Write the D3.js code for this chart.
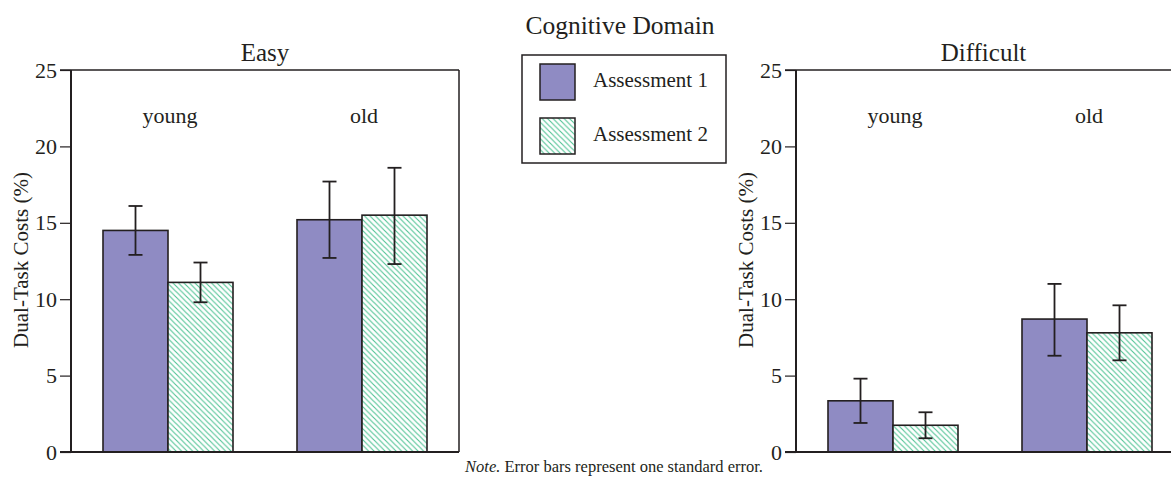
<!DOCTYPE html>
<html>
<head>
<meta charset="utf-8">
<script src="https://cdn.jsdelivr.net/npm/d3@7"></script>
<style>
  body { margin: 0; background: #fff; }
  text { font-family: "Liberation Serif", "Times New Roman", serif; fill: #231f20; }
</style>
</head>
<body>
<div id="chart"></div>
<script>
// data
var groups = ["young", "old"];
var series = ["Assessment 1", "Assessment 2"];
var yTicks = [0, 5, 10, 15, 20, 25];

var easyMean = [[14.5, 11.1], [15.2, 15.5]];
var easyLow  = [[12.9, 9.8], [12.7, 12.3]];
var easyHigh = [[16.1, 12.4], [17.7, 18.6]];

var diffMean = [[3.35, 1.75], [8.7, 7.8]];
var diffLow  = [[1.9, 0.9], [6.3, 6.0]];
var diffHigh = [[4.8, 2.6], [11.0, 9.6]];

var width = 1171, height = 477;
var ink = "#231f20";
var purple = "#8f8bc3";

var svg = d3.select("#chart")
  .append("svg")
  .attr("width", width)
  .attr("height", height);

var defs = svg.append("defs");
var pat = defs.append("pattern")
  .attr("id", "hatch")
  .attr("patternUnits", "userSpaceOnUse")
  .attr("width", 5.5)
  .attr("height", 5.5);
pat.append("rect").attr("width", 5.5).attr("height", 5.5).attr("fill", "#fff");
pat.append("path")
  .attr("d", "M-1,-1 L6.5,6.5 M-3.75,1.75 L1.75,7.25 M1.75,-3.75 L7.25,1.75")
  .attr("stroke", "#4fc394")
  .attr("stroke-width", 1.1);

var fills = [purple, "url(#hatch)"];

var y = d3.scaleLinear().domain([0, 25]).range([452, 70]);

svg.append("text")
  .attr("x", 620).attr("y", 34)
  .attr("text-anchor", "middle")
  .style("font-size", "25.5px")
  .text("Cognitive Domain");

function panel(title, x0, x1, mean, low, high, boxRight) {
  var g = svg.append("g");
  var x = d3.scaleBand().domain(groups).range([x0, x1]).padding(0);
  var xi = d3.scaleBand().domain(series).range([0, 130]);

  // y axis
  var axis = d3.axisLeft(y).tickValues(yTicks).tickSize(11).tickPadding(3);
  var ag = g.append("g")
    .attr("transform", "translate(" + x0 + ",0)")
    .call(axis);
  ag.select(".domain").remove();
  ag.selectAll("line").attr("stroke", ink).attr("stroke-width", 1.2);
  ag.selectAll("text").style("font-size", "22px").attr("fill", ink)
    .style("font-family", "Liberation Serif");

  // frame
  g.append("line").attr("x1", x0).attr("x2", x0).attr("y1", 70).attr("y2", 452)
    .attr("stroke", ink).attr("stroke-width", 2);
  g.append("line").attr("x1", x0 - 11).attr("x2", boxRight).attr("y1", 70).attr("y2", 70)
    .attr("stroke", ink).attr("stroke-width", 1.5);
  if (boxRight < width) {
    g.append("line").attr("x1", boxRight).attr("x2", boxRight).attr("y1", 70).attr("y2", 452)
      .attr("stroke", ink).attr("stroke-width", 1.5);
  }

  // bars
  groups.forEach(function(grp, gi) {
    var cx = x(grp) + x.bandwidth() / 2;
    series.forEach(function(s, si) {
      var bx = cx - 65 + xi(s);
      g.append("rect")
        .attr("x", bx)
        .attr("y", y(mean[gi][si]))
        .attr("width", xi.bandwidth())
        .attr("height", y(0) - y(mean[gi][si]))
        .attr("fill", fills[si])
        .attr("stroke", ink)
        .attr("stroke-width", 1.6);
    });
    g.append("text")
      .attr("x", cx + 2).attr("y", 123)
      .attr("text-anchor", "middle")
      .style("font-size", "22px")
      .text(grp);
  });

  // error bars
  groups.forEach(function(grp, gi) {
    var cx = x(grp) + x.bandwidth() / 2;
    series.forEach(function(s, si) {
      var ex = cx - 65 + xi(s) + xi.bandwidth() / 2;
      var e = g.append("g").attr("stroke", ink).attr("stroke-width", 1.8);
      e.append("line").attr("x1", ex).attr("x2", ex)
        .attr("y1", y(low[gi][si])).attr("y2", y(high[gi][si]));
      e.append("line").attr("x1", ex - 7).attr("x2", ex + 7)
        .attr("y1", y(low[gi][si])).attr("y2", y(low[gi][si]));
      e.append("line").attr("x1", ex - 7).attr("x2", ex + 7)
        .attr("y1", y(high[gi][si])).attr("y2", y(high[gi][si]));
    });
  });

  // baseline
  g.append("line").attr("x1", x0 - 11).attr("x2", boxRight).attr("y1", 452).attr("y2", 452)
    .attr("stroke", ink).attr("stroke-width", 2);

  g.append("text")
    .attr("x", (x0 + boxRight) / 2).attr("y", 61)
    .attr("text-anchor", "middle")
    .style("font-size", "25px")
    .text(title);

  g.append("text")
    .attr("transform", "translate(" + (x0 - 43) + "," + 260 + ") rotate(-90)")
    .attr("text-anchor", "middle")
    .style("font-size", "21px")
    .text("Dual-Task Costs (%)");
}

panel("Easy", 71, 459, easyMean, easyLow, easyHigh, 459);
panel("Difficult", 796, 1184, diffMean, diffLow, diffHigh, width);

// legend
var lg = svg.append("g");
lg.append("rect").attr("x", 522).attr("y", 55).attr("width", 204).attr("height", 108)
  .attr("fill", "#fff").attr("stroke", ink).attr("stroke-width", 1.5);
series.forEach(function(s, i) {
  lg.append("rect")
    .attr("x", 540).attr("y", 64 + i * 54)
    .attr("width", 35).attr("height", 36)
    .attr("fill", fills[i]).attr("stroke", ink).attr("stroke-width", 1.5);
  lg.append("text")
    .attr("x", 593).attr("y", 87 + i * 54)
    .style("font-size", "21px")
    .text(s);
});

// note
var note = svg.append("text")
  .attr("x", 614).attr("y", 472)
  .attr("text-anchor", "middle")
  .style("font-size", "16.5px");
note.append("tspan").style("font-style", "italic").text("Note.");
note.append("tspan").text(" Error bars represent one standard error.");
</script>
</body>
</html>
